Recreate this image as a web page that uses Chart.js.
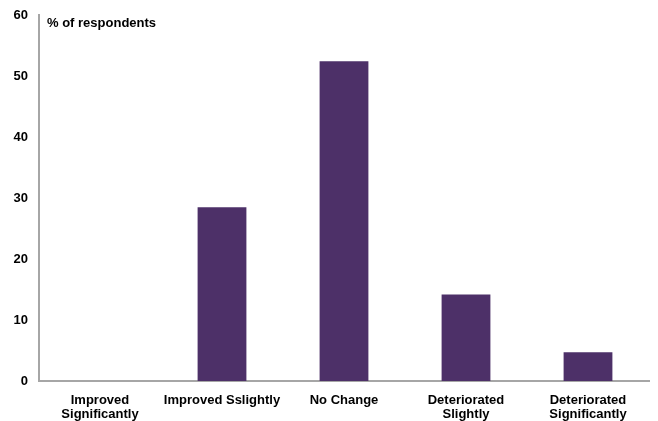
<!DOCTYPE html>
<html>
<head>
<meta charset="utf-8">
<script src="https://cdn.jsdelivr.net/npm/chart.js@4.4.0/dist/chart.umd.min.js"></script>
<style>
html,body{margin:0;padding:0;background:#fff;overflow:hidden;}
#wrap{width:658px;height:421px;position:relative;}
</style>
</head>
<body>
<div id="wrap"><canvas id="c" width="658" height="421"></canvas></div>
<script>
const categories = [["Improved","Significantly"],"Improved Sslightly","No Change",["Deteriorated","Slightly"],["Deteriorated","Significantly"]];
const values = [0, 28.5, 52.4, 14.2, 4.7];
const yTitle = "% of respondents";
const yMax = 60;
const yStep = 10;
const FONT = '"Liberation Sans", Arial, sans-serif';

const titlePlugin = {
  id: 'inTitle',
  afterDraw(chart) {
    const ctx = chart.ctx, a = chart.chartArea;
    ctx.save();
    ctx.font = 'bold 13px ' + FONT;
    ctx.fillStyle = '#000';
    ctx.textBaseline = 'middle';
    ctx.textAlign = 'left';
    ctx.fillText(yTitle, a.left + 8, a.top + 8);
    ctx.restore();
  }
};

new Chart(document.getElementById('c'), {
  type: 'bar',
  data: {
    labels: categories,
    datasets: [{
      data: values,
      backgroundColor: '#4D3068',
      borderWidth: 0,
      barPercentage: 0.4,
      categoryPercentage: 1.0
    }]
  },
  options: {
    responsive: false,
    animation: false,
    layout: { padding: { top: 15, right: 9, left: 0, bottom: 0 } },
    plugins: { legend: { display: false }, tooltip: { enabled: false } },
    scales: {
      x: {
        grid: { display: false },
        border: { display: true, color: '#A6A6A6', width: 2 },
        ticks: { color: '#000', font: { family: FONT, size: 13, weight: 'bold', lineHeight: 1.05 }, padding: 5, maxRotation: 0, autoSkip: false },
        afterFit(s) { s.height = 40; }
      },
      y: {
        min: 0, max: yMax,
        grid: { display: false },
        border: { display: true, color: '#A6A6A6', width: 2 },
        ticks: { stepSize: yStep, color: '#000', padding: 3, font: { family: FONT, size: 13, weight: 'bold' } },
        afterFit(s) { s.width = 39; }
      }
    }
  },
  plugins: [titlePlugin]
});
</script>
</body>
</html>
